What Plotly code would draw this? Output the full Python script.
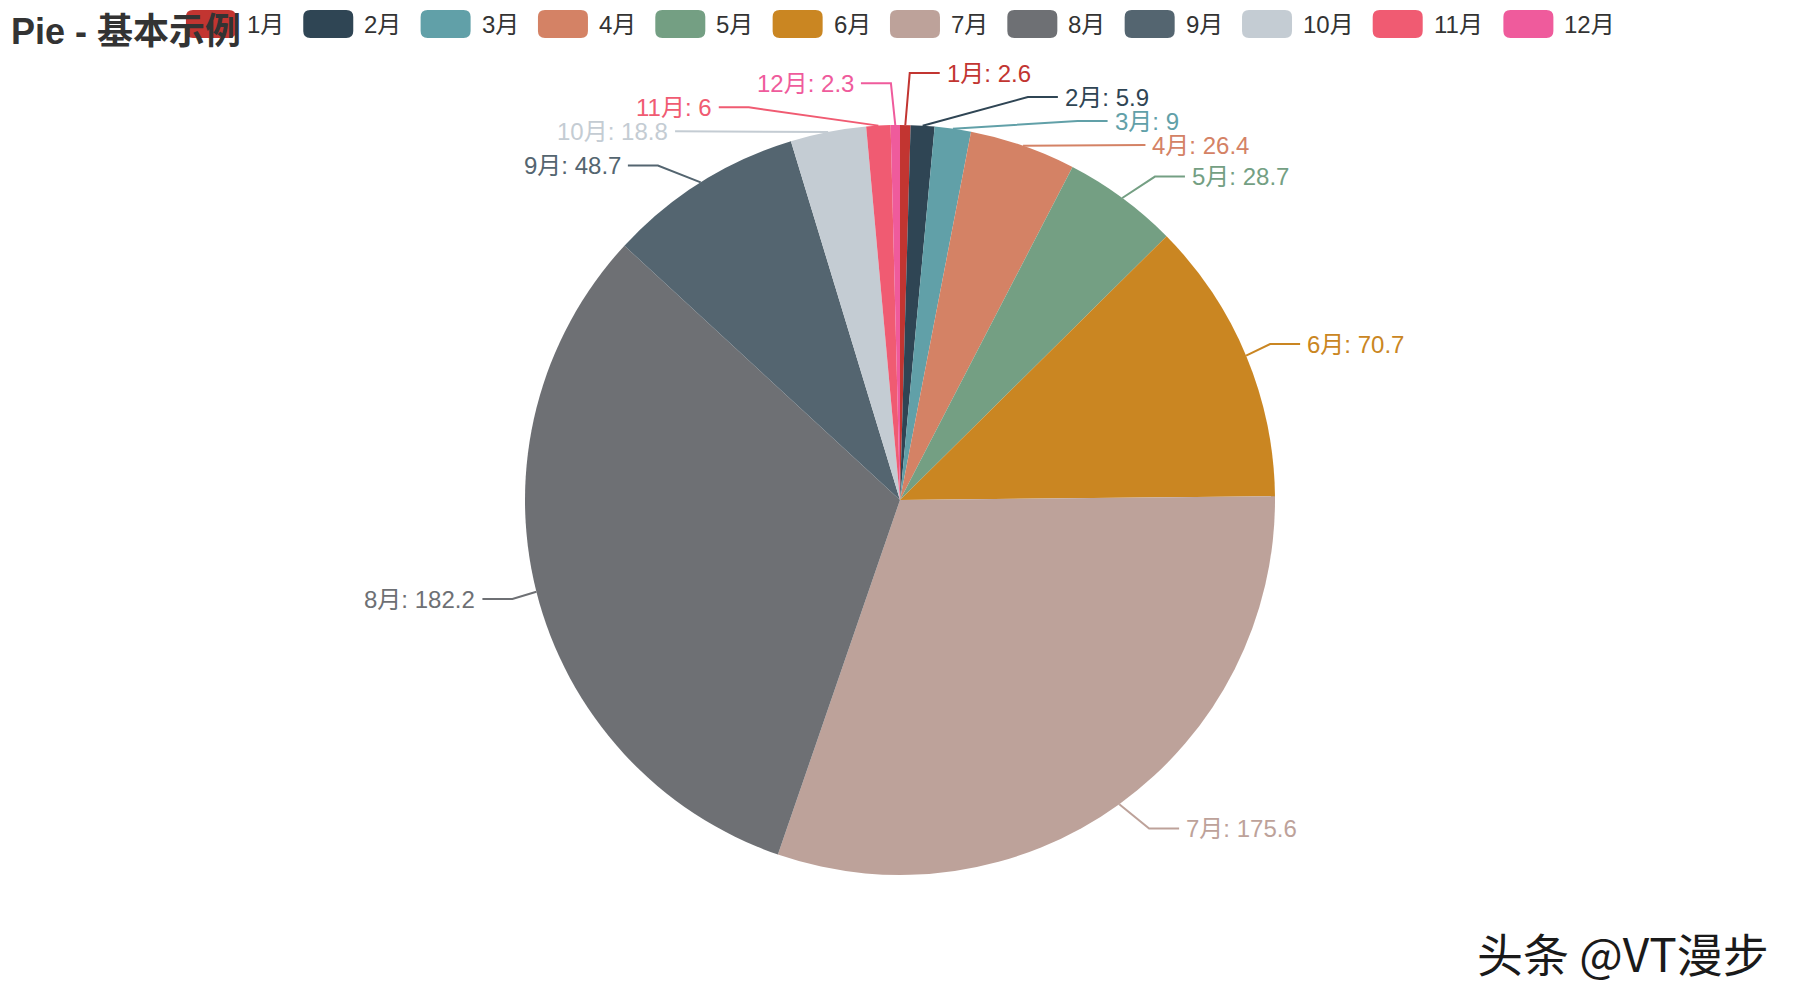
import math
import plotly.graph_objects as go

# ---------------- data ----------------
months = ["1月", "2月", "3月", "4月", "5月", "6月", "7月", "8月", "9月", "10月", "11月", "12月"]
values = [2.6, 5.9, 9, 26.4, 28.7, 70.7, 175.6, 182.2, 48.7, 18.8, 6, 2.3]
colors = ["#c23531", "#2f4554", "#61a0a8", "#d48265", "#749f83", "#ca8622",
          "#bda29a", "#6e7074", "#546570", "#c4ccd3", "#f05b72", "#ef5b9c"]
title_text = "Pie - 基本示例"
watermark_text = "头条 @VT漫步"

# ---------------- geometry (echarts-like, logical px, scaled by S) ----------------
W, H = 1800, 1000
S = 2.0                      # pixel ratio of the reference rendering
VW, VH = W / S, H / S
CX, CY = VW / 2, VH / 2
R = min(VW, VH) / 2 * 0.75
LEN, LEN2 = 15, 15
LABEL_H = 12
LABEL_FONT = 12 * S
FONT = "Liberation Sans, Noto Sans CJK SC, sans-serif"

total = sum(values)
layouts = []
cum = 0.0
for i, v in enumerate(values):
    a0 = -math.pi / 2 + 2 * math.pi * cum / total
    cum += v
    a1 = -math.pi / 2 + 2 * math.pi * cum / total
    mid = (a0 + a1) / 2
    dx, dy = math.cos(mid), math.sin(mid)
    x1, y1 = CX + R * dx, CY + R * dy
    x2, y2 = x1 + dx * LEN, y1 + dy * LEN
    x3 = x2 + (-1 if dx < 0 else 1) * LEN2
    y3 = y2
    tx = x3 + (-5 if dx < 0 else 5)
    layouts.append(dict(i=i, x=tx, y=y3, pts=[[x1, y1], [x2, y2], [x3, y3]]))


def change_x(lst, is_down, direction):
    last = float("inf") if is_down else 0.0
    for a in lst:
        dyy = abs(a["y"] - CY)
        if dyy < R + LEN:
            ddx = math.sqrt((R + LEN + LEN2) ** 2 - dyy ** 2)
        else:
            ddx = abs(a["x"] - CX)
        if is_down and ddx >= last:
            ddx = last - 10
        if (not is_down) and ddx <= last:
            ddx = last + 10
        a["x"] = CX + ddx * direction
        last = ddx


def adjust_side(lst, direction):
    lst.sort(key=lambda a: a["y"])
    n = len(lst)

    def shift_up(end, delta):
        for j in range(end, -1, -1):
            if lst[j]["y"] - delta < 0:
                break
            lst[j]["y"] -= delta
            if j > 0 and lst[j]["y"] > lst[j - 1]["y"] + LABEL_H:
                break

    def shift_down(start, end, delta):
        for j in range(start, end):
            if lst[j]["y"] + delta > VH:
                break
            lst[j]["y"] += delta
            if j > start and j + 1 < end and lst[j + 1]["y"] > lst[j]["y"] + LABEL_H:
                shift_up(j, delta / 2)
                return
        shift_up(end - 1, delta / 2)

    last_y = 0.0
    for k in range(n):
        delta = lst[k]["y"] - last_y
        if delta < 0:
            shift_down(k, n, -delta)
        last_y = lst[k]["y"] + LABEL_H
    if VH - last_y < 0:
        shift_up(n - 1, last_y - VH)
    up = [a for a in lst if a["y"] < CY]
    down = [a for a in lst if a["y"] >= CY]
    change_x(up, False, direction)
    change_x(down, True, direction)


left = [a for a in layouts if a["x"] < CX]
right = [a for a in layouts if a["x"] >= CX]
adjust_side(right, 1)
adjust_side(left, -1)
for a in layouts:
    p = a["pts"]
    dist = p[1][0] - p[2][0]
    p[2][0] = a["x"] + 3 if a["x"] < CX else a["x"] - 3
    p[1][1] = p[2][1] = a["y"]
    p[1][0] = p[2][0] + dist

# ---------------- figure ----------------
fig = go.Figure()

# invisible pixel-space axes for label lines
for a in layouts:
    i = a["i"]
    fig.add_trace(go.Scatter(
        x=[q[0] * S for q in a["pts"]], y=[q[1] * S for q in a["pts"]],
        mode="lines", line=dict(color=colors[i], width=2),
        hoverinfo="skip", showlegend=False))

pcx, pcy, pr = CX * S, CY * S, R * S
fig.add_trace(go.Pie(
    labels=months, values=values, sort=False, direction="clockwise", rotation=0,
    marker=dict(colors=colors, line=dict(width=0)),
    textinfo="none", showlegend=False,
    domain=dict(x=[(pcx - pr) / W, (pcx + pr) / W], y=[1 - (pcy + pr) / H, 1 - (pcy - pr) / H]),
))

annotations = []
shapes = []

# slice labels
for a in layouts:
    i = a["i"]
    v = values[i]
    vtxt = ("%g" % v)
    annotations.append(dict(
        x=a["x"] * S, y=a["y"] * S, xref="x", yref="y",
        text=f"{months[i]}: {vtxt}", showarrow=False,
        xanchor="right" if a["x"] < CX else "left", yanchor="middle",
        font=dict(family=FONT, size=LABEL_FONT, color=colors[i]), borderpad=0))

# legend (echarts-like, centered, round rect icons)
ITEM_W, ITEM_H, ITEM_GAP, TEXT_GAP = 25 * S, 14 * S, 10 * S, 5 * S
LEG_FONT = 12 * S
LEG_TOP = 5 * S


def text_w(s, size):
    w = 0.0
    for ch in s:
        w += size * (0.556 if ch.isascii() else 1.0)
    return w


widths = [ITEM_W + TEXT_GAP + text_w(m, LEG_FONT) for m in months]
total_w = sum(widths) + ITEM_GAP * (len(months) - 1)
x0 = (W - total_w) / 2
rr = min(ITEM_W, ITEM_H) / 4
for m, c, wdt in zip(months, colors, widths):
    xa, xb = x0, x0 + ITEM_W
    ya, yb = LEG_TOP, LEG_TOP + ITEM_H
    path = (f"M{xa + rr},{ya} L{xb - rr},{ya} Q{xb},{ya} {xb},{ya + rr} "
            f"L{xb},{yb - rr} Q{xb},{yb} {xb - rr},{yb} L{xa + rr},{yb} "
            f"Q{xa},{yb} {xa},{yb - rr} L{xa},{ya + rr} Q{xa},{ya} {xa + rr},{ya} Z")
    shapes.append(dict(type="path", path=path, xref="x", yref="y",
                       fillcolor=c, line=dict(width=0), layer="above"))
    annotations.append(dict(
        x=xb + TEXT_GAP, y=(ya + yb) / 2, xref="x", yref="y", text=m, showarrow=False,
        xanchor="left", yanchor="middle", borderpad=0,
        font=dict(family=FONT, size=LEG_FONT, color="#333333")))
    x0 += wdt + ITEM_GAP

# title (drawn above legend)
annotations.append(dict(
    x=5 * S, y=5 * S, xref="x", yref="y", text=f"<b>{title_text}</b>", showarrow=False,
    xanchor="left", yanchor="top", borderpad=0,
    font=dict(family=FONT, size=18 * S, color="#333333")))

# watermark
annotations.append(dict(
    x=1770, y=952, xref="x", yref="y", text=watermark_text, showarrow=False,
    xanchor="right", yanchor="middle", borderpad=0,
    font=dict(family="Noto Sans CJK SC, sans-serif", size=46, color="#1a1a1a")))

fig.update_layout(
    width=W, height=H, autosize=False,
    margin=dict(l=0, r=0, t=0, b=0, pad=0),
    paper_bgcolor="white", plot_bgcolor="white",
    xaxis=dict(range=[0, W], visible=False, fixedrange=True, domain=[0, 1]),
    yaxis=dict(range=[H, 0], visible=False, fixedrange=True, domain=[0, 1]),
    annotations=annotations, shapes=shapes,
)

fig.write_html("out.html")
